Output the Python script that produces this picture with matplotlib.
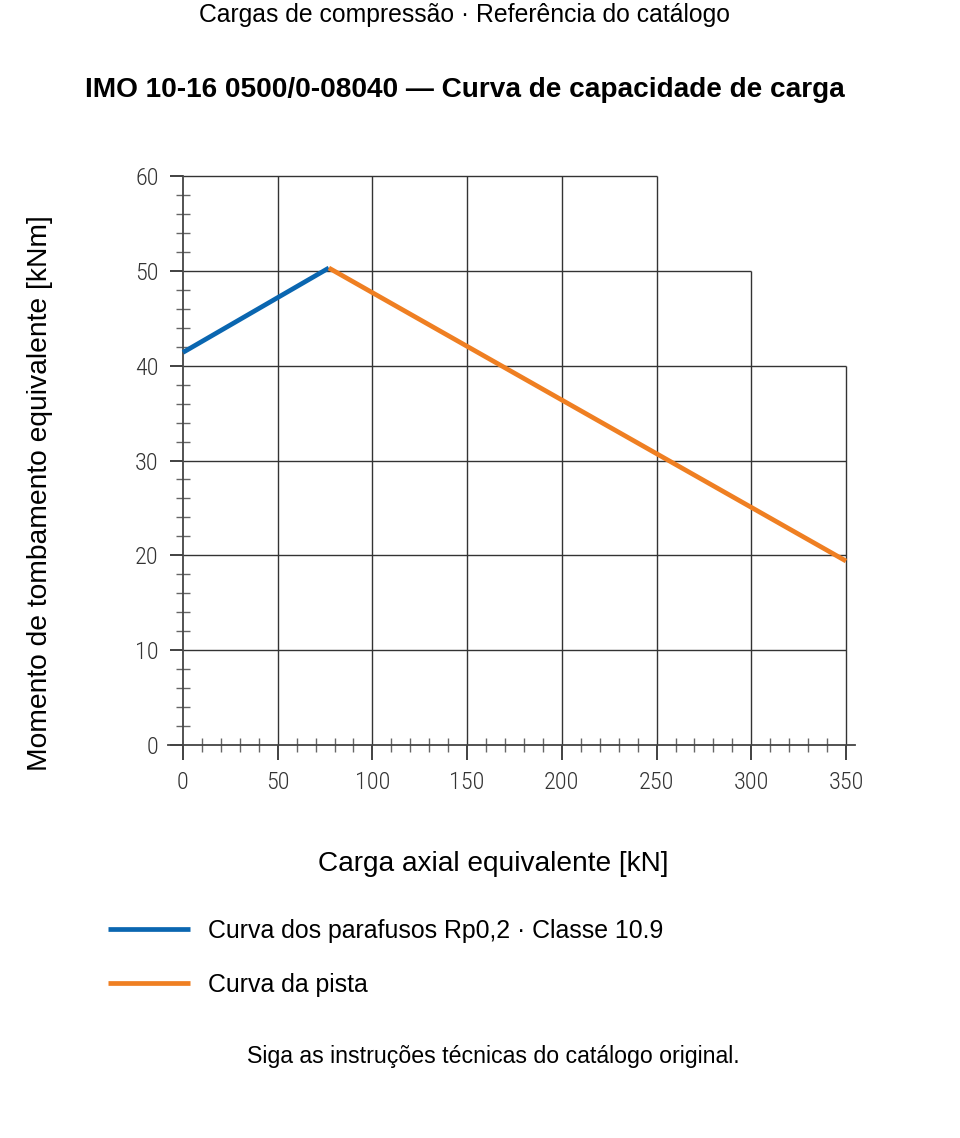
import numpy as np
import matplotlib
matplotlib.use("Agg")
from matplotlib import pyplot as plt
from matplotlib.ticker import MultipleLocator

# curva dos parafusos (kN, kNm)
bolt_x = [0, 77]
bolt_y = [41.4, 50.3]
# curva da pista
race_x = [77, 350]
race_y = [50.3, 19.4]

x_major = [0, 50, 100, 150, 200, 250, 300, 350]
y_major = [0, 10, 20, 30, 40, 50, 60]
# altura maxima da grelha para cada linha vertical (escada)
grid_top = [60, 60, 60, 60, 60, 60, 50, 40]

BLUE = "#0a66b0"
ORANGE = "#ef7f22"
GRID = "#333333"

plt.rcParams['font.family'] = ['Liberation Sans', 'DejaVu Sans']

fig = plt.figure(figsize=(9.6, 11.38), dpi=100)
ax = fig.add_axes([183/960, 1-745/1138, 663/960, 569/1138])

ax.set_xlim(0, 350)
ax.set_ylim(0, 60)

# grelha em escada
for x, top in zip(x_major, grid_top):
    if x > 0:
        ax.vlines(x, 0, top, color=GRID, lw=1.0, zorder=1, clip_on=False)
for y in y_major[1:]:
    right = max(x for x, top in zip(x_major, grid_top) if top >= y)
    ax.hlines(y, 0, right, color=GRID, lw=1.0, zorder=1, clip_on=False)

ax.plot(bolt_x, bolt_y, color=BLUE, lw=3.4, solid_capstyle='butt', zorder=3, clip_on=False)
ax.plot(race_x, race_y, color=ORANGE, lw=3.4, solid_capstyle='butt', zorder=3, clip_on=False)

for s in ["top", "right"]:
    ax.spines[s].set_visible(False)
ax.spines["left"].set_bounds(0, 60)
ax.spines["bottom"].set_bounds(-8, 355)
for s in ["left", "bottom"]:
    ax.spines[s].set_color("#444444")
    ax.spines[s].set_linewidth(1.3)

ax.set_xticks(x_major)
ax.set_yticks(y_major)
ax.xaxis.set_minor_locator(MultipleLocator(10))
ax.yaxis.set_minor_locator(MultipleLocator(2))

tick_font = ['Roboto Condensed', 'Liberation Sans Narrow', 'Liberation Sans']
ax.tick_params(axis='x', which='major', direction='out', length=11, width=1.3,
               color="#333333", pad=8, labelsize=17.5, labelcolor="#333333")
ax.tick_params(axis='y', which='major', direction='out', length=9.5, width=1.3,
               color="#333333", pad=8, labelsize=17.5, labelcolor="#333333")
ax.tick_params(axis='both', which='minor', direction='inout', length=9.5, width=1.0,
               color="#666666")
for lab in ax.get_xticklabels() + ax.get_yticklabels():
    lab.set_family(tick_font)
    lab.set_fontweight('light')

ax.set_facecolor("none")

fig.text(0.484, 1-15/1138, "Cargas de compressão · Referência do catálogo",
         ha='center', va='center', fontsize=17.8)
fig.text(0.484, 1-90/1138, "IMO 10-16 0500/0-08040 — Curva de capacidade de carga",
         ha='center', va='center', fontsize=20.2, fontweight='bold')
fig.text(40/960, 1-493/1138, "Momento de tombamento equivalente [kNm]",
         ha='center', va='center', rotation=90, fontsize=20.3)
fig.text(493/960, 1-864/1138, "Carga axial equivalente [kN]",
         ha='center', va='center', fontsize=20.2)

h1, = ax.plot([], [], color=BLUE, lw=3.4, solid_capstyle='butt')
h2, = ax.plot([], [], color=ORANGE, lw=3.4, solid_capstyle='butt')
fig.legend([h1, h2], ["Curva dos parafusos Rp0,2 · Classe 10.9", "Curva da pista"],
           loc='upper left', bbox_to_anchor=(108/960, 1-919/1138), frameon=False,
           borderpad=0, borderaxespad=0, fontsize=17.9, handlelength=3.3,
           handletextpad=0.72, labelspacing=1.2)

fig.text(493/960, 1-1057/1138, "Siga as instruções técnicas do catálogo original.",
         ha='center', va='center', fontsize=16.7)

fig.savefig("out.png", dpi=100)
